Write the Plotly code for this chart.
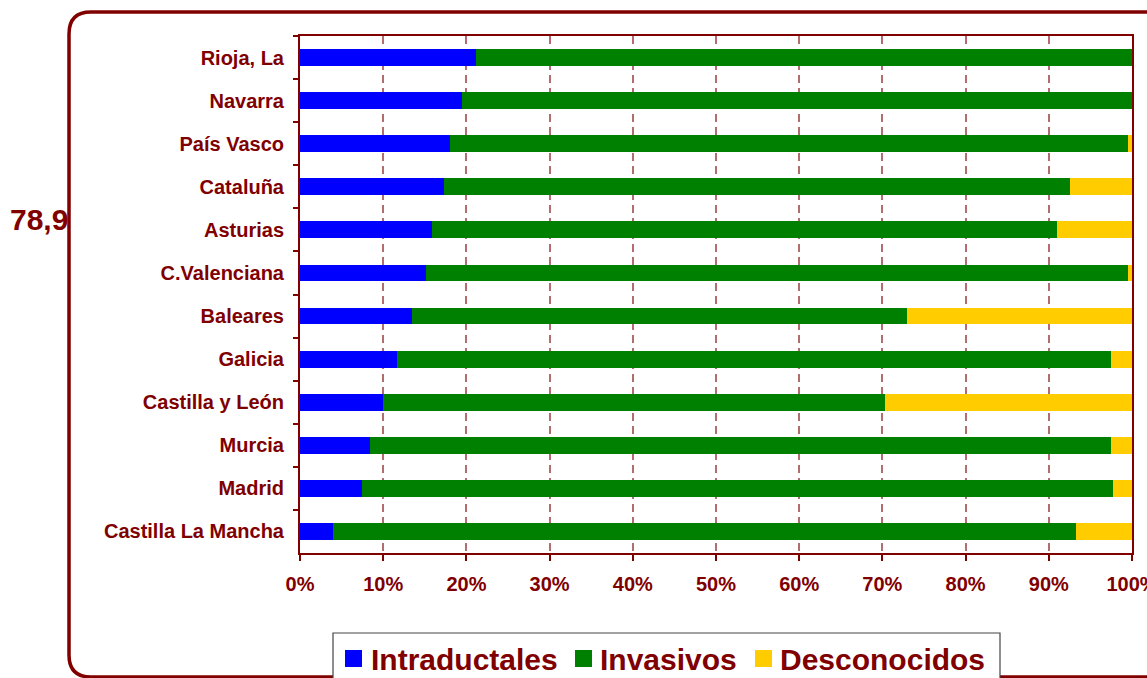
import plotly.graph_objects as go

# Regions, listed top to bottom
regiones = ["Rioja, La", "Navarra", "País Vasco", "Cataluña", "Asturias",
            "C.Valenciana", "Baleares", "Galicia", "Castilla y León",
            "Murcia", "Madrid", "Castilla La Mancha"]

# Share of each tumour type per region (%)
intraductales = [21.1, 19.5, 18.0, 17.3, 15.9, 15.1, 13.5, 11.7, 10.0, 8.4, 7.4, 4.0]
invasivos = [78.9, 80.5, 81.5, 75.2, 75.1, 84.4, 59.4, 85.8, 60.3, 89.1, 90.3, 89.3]
desconocidos = [0.0, 0.0, 0.5, 7.5, 9.0, 0.5, 27.1, 2.5, 29.7, 2.5, 2.3, 6.7]

series = ["Intraductales", "Invasivos", "Desconocidos"]
colores = ["#0000FF", "#008000", "#FFCC00"]

x_ticks = [0, 10, 20, 30, 40, 50, 60, 70, 80, 90, 100]
x_labels = [f"{v}%" for v in x_ticks]

W, H = 1147, 678
DARK_RED = "#800000"
FONT = "Liberation Sans, Arial, sans-serif"


def px(x):
    return x / W


def py(y):
    return 1 - y / H


fig = go.Figure()
for name, vals, col in zip(series, [intraductales, invasivos, desconocidos], colores):
    fig.add_trace(go.Bar(
        y=regiones, x=vals, name=name, orientation="h",
        marker=dict(color=col, line=dict(width=0)),
        showlegend=False, xaxis="x", yaxis="y",
    ))

# Highlighted value (Invasivos, first region), clipped by the frame border
valor = f"{invasivos[0]:.1f}".replace(".", ",")
fig.add_trace(go.Scatter(
    x=[10], y=[222], mode="text", text=[valor], textposition="middle right",
    textfont=dict(family=FONT, size=30, color=DARK_RED, weight="bold"),
    cliponaxis=True, showlegend=False, hoverinfo="skip",
    xaxis="x2", yaxis="y2",
))

fig.update_layout(
    width=W, height=H,
    margin=dict(l=0, r=0, t=0, b=0),
    paper_bgcolor="white", plot_bgcolor="white",
    barmode="stack", bargap=0.61,
    font=dict(family=FONT, color=DARK_RED),
    xaxis=dict(
        domain=[px(300), px(1132)], range=[0, 100.001],
        tickmode="array", tickvals=x_ticks, ticktext=x_labels,
        tickfont=dict(family=FONT, size=20, color=DARK_RED, weight="bold"),
        showgrid=True, gridcolor="rgba(140,30,30,0.65)", gridwidth=1.5,
        griddash="8px,5px",
        showline=True, linecolor=DARK_RED, linewidth=2, mirror=True,
        ticks="outside", ticklen=6, tickcolor=DARK_RED, tickwidth=1.5,
        ticklabelstandoff=6, ticklabeloverflow="allow",
        zeroline=False, automargin=False, fixedrange=True,
    ),
    yaxis=dict(
        domain=[py(553), py(36)], autorange="reversed",
        categoryorder="array", categoryarray=regiones,
        tickfont=dict(family=FONT, size=20, color=DARK_RED, weight="bold"),
        showgrid=False,
        showline=True, linecolor=DARK_RED, linewidth=2, mirror=True,
        ticks="outside", ticklen=5, tickcolor=DARK_RED, tickwidth=1.5,
        tickson="boundaries", ticklabelstandoff=10,
        automargin=False, fixedrange=True,
    ),
    xaxis2=dict(domain=[0, px(68)], range=[0, 68], visible=False, anchor="y2",
                fixedrange=True),
    yaxis2=dict(domain=[0, 1], range=[H, 0], visible=False, anchor="x2",
                fixedrange=True),
)

shapes = []
# Rounded frame around the chart (left/top edges visible)
frame = (f"M {px(1170)},{py(677)} L {px(91)},{py(677)} "
         f"Q {px(69)},{py(677)} {px(69)},{py(655)} "
         f"L {px(69)},{py(34)} Q {px(69)},{py(12)} {px(91)},{py(12)} "
         f"L {px(1170)},{py(12)}")
shapes.append(dict(type="path", path=frame, xref="paper", yref="paper",
                   line=dict(color=DARK_RED, width=3.5), layer="above"))

# Legend box
shapes.append(dict(type="rect", xref="paper", yref="paper",
                   x0=px(333), x1=px(1000), y0=py(700), y1=py(633),
                   line=dict(color="#444444", width=1.2), fillcolor="white",
                   layer="above"))

annotations = []
sw_x = [345, 575, 755]
txt_x = [372, 601, 781]
for name, col, sx, tx in zip(series, colores, sw_x, txt_x):
    shapes.append(dict(type="rect", xref="paper", yref="paper",
                       x0=px(sx), x1=px(sx + 17), y0=py(667), y1=py(650),
                       fillcolor=col, line=dict(width=0), layer="above"))
    annotations.append(dict(
        x=px(tx - 3), y=py(659), xref="paper", yref="paper",
        text=name, showarrow=False, xanchor="left", yanchor="middle",
        font=dict(family=FONT, size=30, color=DARK_RED, weight="bold"),
    ))

fig.update_layout(shapes=shapes, annotations=annotations)

fig.write_html("out.html")
